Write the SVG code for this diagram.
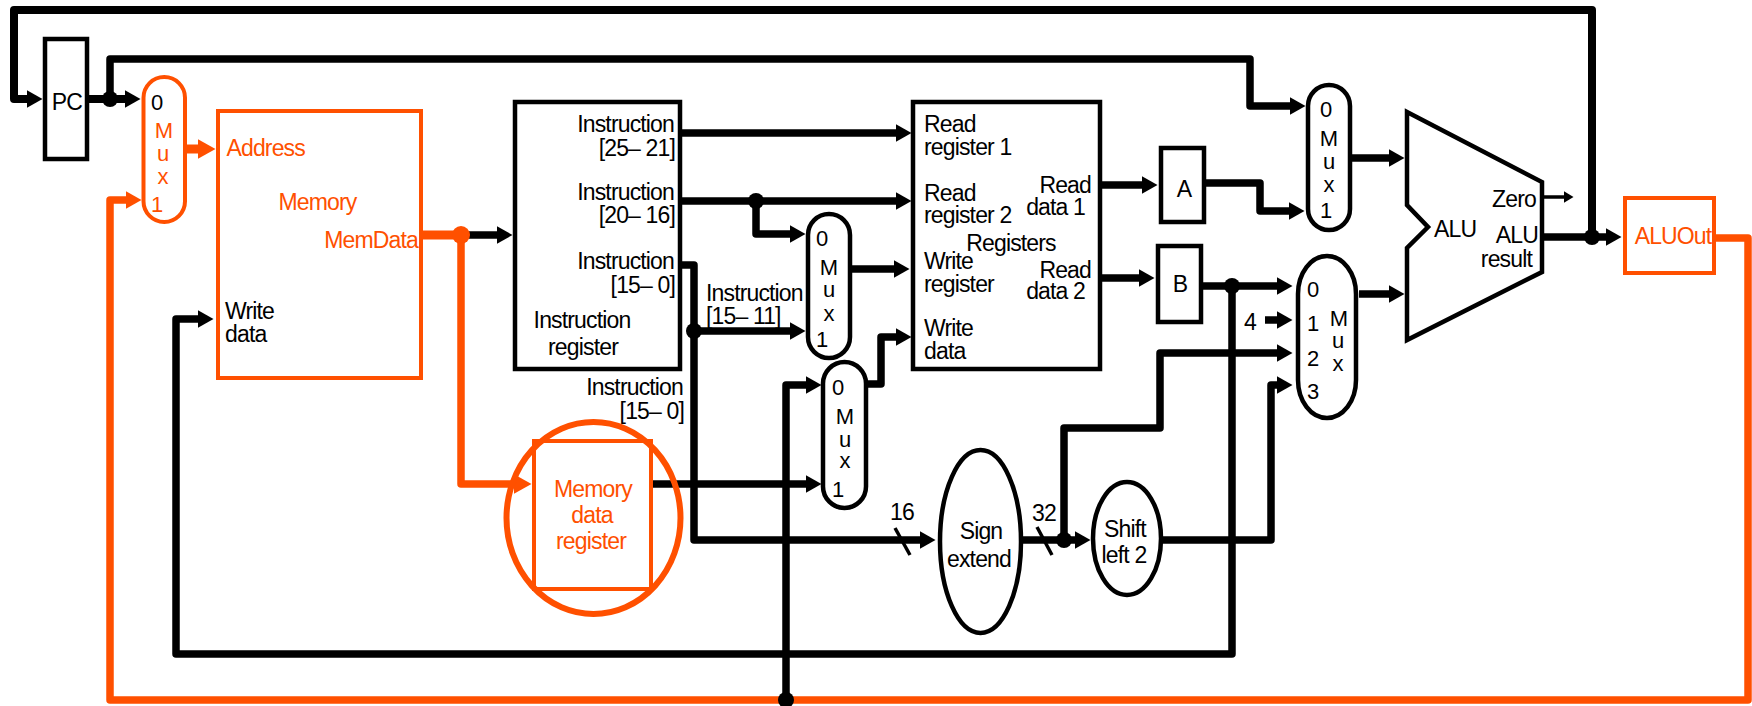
<svg xmlns="http://www.w3.org/2000/svg" width="1752" height="706" viewBox="0 0 1752 706">
<style>
text{font-family:"Liberation Sans",Arial,sans-serif;font-size:23px;letter-spacing:-0.85px;fill:#000}
.mx text{font-size:22px;letter-spacing:0}
.o text,text.o{fill:#ff5000}
.m{text-anchor:middle}
.e{text-anchor:end}
.k{fill:#fff;stroke:#000;stroke-width:4.5}
.r{fill:#fff;stroke:#ff5000;stroke-width:4}
.w{fill:none;stroke:#000;stroke-width:7.5;stroke-linejoin:round}
.wo{fill:none;stroke:#ff5000;stroke-width:7.5;stroke-linejoin:round}
.thin{fill:none;stroke:#000;stroke-width:3.5}
.d{fill:#000}
.dk{fill:#000;stroke:none}
.dor{fill:#ff5000;stroke:none}
.a{marker-end:url(#ah)}
.ao{marker-end:url(#aho)}
</style>
<defs>
<marker id="ah" markerUnits="userSpaceOnUse" markerWidth="16" markerHeight="18" viewBox="0 0 16 18" refX="0.5" refY="9" orient="auto"><path class="dk" d="M0,0 L16,9 L0,18 Z"/></marker>
<marker id="aho" markerUnits="userSpaceOnUse" markerWidth="16" markerHeight="18" viewBox="0 0 16 18" refX="0.5" refY="9" orient="auto"><path class="dor" d="M0,0 L16,9 L0,18 Z"/></marker>
<marker id="ahb" markerUnits="userSpaceOnUse" markerWidth="18" markerHeight="20" viewBox="0 0 18 20" refX="0.5" refY="10" orient="auto"><path class="dor" d="M0,0 L18,10 L0,20 Z"/></marker>
<marker id="ahs" markerUnits="userSpaceOnUse" markerWidth="10" markerHeight="12" viewBox="0 0 10 12" refX="0.5" refY="6" orient="auto"><path class="dk" d="M0,0 L10,6 L0,12 Z"/></marker>
</defs>
<g id="connectors">
<polyline class="wo" points="1714,238 1748,238 1748,700 110,700 110,200 126,200" style="marker-end:url(#aho)"/>
<polyline class="w a" points="1592,237 1592,10 14,10 14,99 27,99" style="stroke-width:8"/>
<polyline class="w a" points="87,99 125,99" style="stroke-width:8"/>
<polyline class="w a" points="110,99 110,59 1250,59 1250,106 1290,106"/>
<polyline class="wo" points="186,149 198,149" style="stroke-width:9;marker-end:url(#ahb)"/>
<polyline class="w" points="421,235 461,235" style="stroke:#ff5000;stroke-width:9"/>
<polyline class="w a" points="461,235 497,235"/>
<polyline class="wo" points="461,235 461,484 514,484" style="marker-end:url(#ahb)"/>
<polyline class="w a" points="1232,286 1232,654 176,654 176,319 198,319"/>
<polyline class="w a" points="680,133 896,133"/>
<polyline class="w a" points="680,201 896,201"/>
<polyline class="w a" points="756,201 756,234 790,234"/>
<polyline class="w a" points="680,265 694,265 694,540 920,540"/>
<polyline class="w a" points="694,331 790,331"/>
<polyline class="w a" points="850,269 894,269"/>
<polyline class="w a" points="786,700 786,385 806,385"/>
<polyline class="w a" points="866,384 881,384 881,337 896,337"/>
<polyline class="w a" points="652,484 806,484"/>
<polyline class="w a" points="1021,540 1075,540"/>
<polyline class="w a" points="1064,540 1064,428 1160,428 1160,353 1277,353"/>
<polyline class="w a" points="1161,540 1271,540 1271,385 1277,385"/>
<polyline class="w a" points="1100,185 1142,185"/>
<polyline class="w a" points="1100,278 1139,278"/>
<polyline class="w a" points="1204,183 1260,183 1260,211 1289,211"/>
<polyline class="w a" points="1201,286 1277,286"/>
<polyline class="w a" points="1265,320 1277,320"/>
<polyline class="w a" points="1350,158 1389,158"/>
<polyline class="w a" points="1359,294 1389,294"/>
<polyline class="w a" points="1542,237 1606,237"/>
<polyline class="thin" points="1542,197 1564,197" style="marker-end:url(#ahs)"/>
<line class="thin" x1="895" y1="528" x2="910" y2="555"/>
<line class="thin" x1="1037" y1="527" x2="1052" y2="555"/>
<circle class="d" cx="110" cy="99" r="8"/>
<circle class="dor" cx="461" cy="235" r="9"/>
<circle class="d" cx="756" cy="201" r="8"/>
<circle class="d" cx="694" cy="331" r="8"/>
<circle class="d" cx="786" cy="700" r="8"/>
<circle class="d" cx="1064" cy="540" r="8"/>
<circle class="d" cx="1232" cy="286" r="8"/>
<circle class="d" cx="1592" cy="237" r="8"/>
</g>
<g id="pc"><rect class="k" x="45" y="39" width="42" height="120"/><text class="m" x="67" y="110">PC</text></g>
<g id="mux-address" class="o mx"><rect class="r" x="143.5" y="77" width="41.5" height="145" rx="20.7"/><text style="fill:#000" class="m" x="157" y="110">0</text><text class="m" x="164" y="138">M</text><text class="m" x="163" y="161">u</text><text class="m" x="163" y="184">x</text><text class="m" x="157" y="212">1</text></g>
<g id="memory" class="o"><rect class="r" x="218" y="111" width="203" height="267"/><text x="226.5" y="156">Address</text><text x="278.5" y="210">Memory</text><text class="e" x="418" y="248">MemData</text><text style="fill:#000" x="225" y="319">Write</text><text style="fill:#000" x="225" y="342">data</text></g>
<g id="instruction-register"><rect class="k" x="515" y="102" width="165" height="267"/><text class="e" x="674" y="132">Instruction</text><text class="e" x="675" y="156">[25– 21]</text><text class="e" x="674" y="200">Instruction</text><text class="e" x="675" y="223">[20– 16]</text><text class="e" x="674" y="269">Instruction</text><text class="e" x="675" y="293">[15– 0]</text><text class="m" x="582" y="328">Instruction</text><text class="m" x="583" y="355">register</text></g>
<g id="label-instruction-15-11"><text x="706" y="301">Instruction</text><text x="706" y="324">[15– 11]</text></g>
<g id="label-instruction-15-0"><text class="e" x="683" y="395">Instruction</text><text class="e" x="684" y="419">[15– 0]</text></g>
<g id="mux-write-register" class="mx"><rect class="k" x="808" y="214" width="42" height="144" rx="21"/><text class="m" x="822" y="246">0</text><text class="m" x="829" y="275">M</text><text class="m" x="829" y="297">u</text><text class="m" x="829" y="321">x</text><text class="m" x="822" y="347">1</text></g>
<g id="mux-write-data" class="mx"><rect class="k" x="823" y="362" width="43" height="146" rx="21.5"/><text class="m" x="838" y="395">0</text><text class="m" x="845" y="424">M</text><text class="m" x="845" y="447">u</text><text class="m" x="845" y="468">x</text><text class="m" x="838" y="497">1</text></g>
<g id="registers"><rect class="k" x="913" y="102" width="187" height="267"/><text x="924" y="132">Read</text><text x="924" y="155">register 1</text><text x="924" y="201">Read</text><text x="924" y="223">register 2</text><text x="924" y="269">Write</text><text x="924" y="292">register</text><text x="924" y="336">Write</text><text x="924" y="359">data</text><text class="m" x="1011" y="251">Registers</text><text class="e" x="1091" y="193">Read</text><text class="e" x="1085" y="215">data 1</text><text class="e" x="1091" y="278">Read</text><text class="e" x="1085" y="299">data 2</text></g>
<g id="reg-a"><rect class="k" x="1161" y="148" width="43" height="74"/><text class="m" x="1184" y="197">A</text></g>
<g id="reg-b"><rect class="k" x="1158" y="246" width="43" height="76"/><text class="m" x="1180" y="292">B</text></g>
<g id="mux-alu-a" class="mx"><rect class="k" x="1308" y="85" width="42" height="145" rx="21"/><text class="m" x="1326" y="117">0</text><text class="m" x="1329" y="146">M</text><text class="m" x="1329" y="169">u</text><text class="m" x="1329" y="192">x</text><text class="m" x="1326" y="218">1</text></g>
<g id="mux-alu-b" class="mx"><rect class="k" x="1298" y="256" width="58" height="162" rx="29" ry="38"/><text class="m" x="1313" y="297">0</text><text class="m" x="1313" y="331">1</text><text class="m" x="1313" y="366">2</text><text class="m" x="1313" y="399">3</text><text class="m" x="1339" y="326">M</text><text class="m" x="1338" y="348">u</text><text class="m" x="1338" y="371">x</text></g>
<g id="label-4"><text class="m" x="1250" y="330">4</text></g>
<g id="alu"><polygon class="k" points="1407,112 1542,182 1542,272 1407,340 1407,248 1428,227 1407,205"/><text x="1434" y="237">ALU</text><text class="e" x="1536" y="207">Zero</text><text class="e" x="1538" y="243">ALU</text><text class="e" x="1532" y="267">result</text></g>
<g id="aluout" class="o"><rect class="r" x="1625" y="198" width="89" height="75"/><text class="m" x="1673" y="244">ALUOut</text></g>
<g id="memory-data-register" class="o"><rect class="r" x="534" y="441" width="117" height="148" style="fill:none"/><text class="m" x="593" y="497">Memory</text><text class="m" x="592" y="523">data</text><text class="m" x="591" y="549">register</text><ellipse cx="593.5" cy="518" rx="87" ry="96" style="fill:none;stroke:#ff5000;stroke-width:6"/></g>
<g id="sign-extend"><ellipse class="k" cx="980.5" cy="541.5" rx="40.5" ry="91.5"/><text class="m" x="981" y="539">Sign</text><text class="m" x="979" y="567">extend</text></g>
<g id="shift-left-2"><ellipse class="k" cx="1127" cy="538.5" rx="34" ry="56.5"/><text class="m" x="1125" y="537">Shift</text><text class="m" x="1124" y="563">left 2</text></g>
<g id="labels-width"><text class="m" x="902" y="520">16</text><text class="m" x="1044" y="521">32</text></g>
</svg>
